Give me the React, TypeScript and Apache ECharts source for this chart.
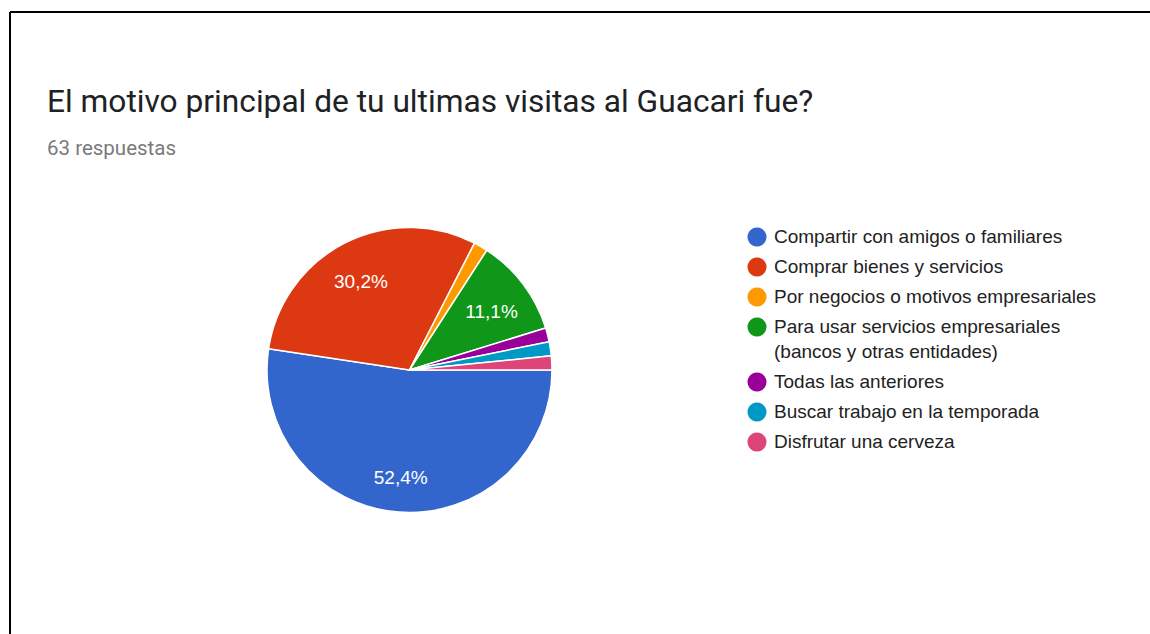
import React, { useEffect, useRef } from "react";
import * as echarts from "echarts";

const TITLE = "El motivo principal de tu ultimas visitas al Guacari fue?";
const SUBTITLE = "63 respuestas";
const categories = [
  "Compartir con amigos o familiares",
  "Comprar bienes y servicios",
  "Por negocios o motivos empresariales",
  "Para usar servicios empresariales\n(bancos y otras entidades)",
  "Todas las anteriores",
  "Buscar trabajo en la temporada",
  "Disfrutar una cerveza",
];
const values = [33, 19, 1, 7, 1, 1, 1];
const colors = ["#3366cc", "#dc3912", "#ff9900", "#109618", "#990099", "#0099c6", "#dd4477"];

const CX = 409.5;
const CY = 370;
const R = 142.5;

function pctLabel(p: number) {
  return p.toFixed(1).replace(".", ",") + "%";
}

export default function App() {
  const ref = useRef<HTMLDivElement>(null);
  useEffect(() => {
    if (!ref.current) return;
    const chart = echarts.init(ref.current, undefined, { renderer: "svg" });
    const total = values.reduce((a, b) => a + b, 0);
    const data = categories.map((name, i) => ({
      name,
      value: values[i],
      itemStyle: { color: colors[i] },
    }));

    const legendEls: any[] = [];
    let y = 237;
    categories.forEach((name, i) => {
      const lines = name.split("\n").length;
      legendEls.push({
        type: "circle",
        shape: { cx: 757, cy: y, r: 9.5 },
        style: { fill: colors[i] },
        silent: true,
      });
      legendEls.push({
        type: "text",
        x: 774,
        y: y - 13.5,
        style: {
          text: name,
          fill: "#222222",
          font: "19px 'Liberation Sans', Arial, sans-serif",
          lineHeight: 25,
          verticalAlign: "top",
          align: "left",
        },
        silent: true,
      });
      y += 30 + (lines - 1) * 25;
    });

    chart.setOption({
      animation: false,
      backgroundColor: "#ffffff",
      graphic: [
        { type: "line", shape: { x1: 10, y1: 12, x2: 1150, y2: 12 }, style: { stroke: "#000", lineWidth: 2 }, silent: true },
        { type: "line", shape: { x1: 10, y1: 12, x2: 10, y2: 634 }, style: { stroke: "#000", lineWidth: 2 }, silent: true },
        {
          type: "text",
          x: 47,
          y: 101,
          style: {
            text: TITLE,
            fill: "#202124",
            font: "31.7px Roboto, sans-serif",
            verticalAlign: "middle",
          },
          silent: true,
        },
        {
          type: "text",
          x: 47,
          y: 148,
          style: {
            text: SUBTITLE,
            fill: "#7a7a7a",
            font: "20.5px Roboto, sans-serif",
            verticalAlign: "middle",
          },
          silent: true,
        },
        ...legendEls,
      ],
      series: [
        {
          type: "pie",
          center: [CX, CY],
          radius: [0, R],
          startAngle: 0,
          clockwise: true,
          silent: true,
          label: { show: false },
          labelLine: { show: false },
          itemStyle: { borderColor: "#ffffff", borderWidth: 1.5 },
          data,
        },
        {
          type: "pie",
          center: [CX, CY],
          radius: [R * 0.42, R],
          startAngle: 0,
          clockwise: true,
          silent: true,
          itemStyle: { color: "rgba(0,0,0,0)", borderWidth: 0 },
          label: {
            show: true,
            position: "inside",
            color: "#ffffff",
            fontSize: 19,
            offset: [-1, 4],
            fontFamily: "'Liberation Sans', Arial, sans-serif",
            formatter: (p: any) => {
              const pct = (p.value / total) * 100;
              return pct >= 5 ? pctLabel(pct) : "";
            },
          },
          labelLine: { show: false },
          data: categories.map((name, i) => ({ name, value: values[i] })),
        },
      ],
    });
    return () => chart.dispose();
  }, []);
  return (
    <div
      ref={ref}
      style={{ position: "fixed", left: 0, top: 0, width: 1150, height: 634 }}
    />
  );
}
